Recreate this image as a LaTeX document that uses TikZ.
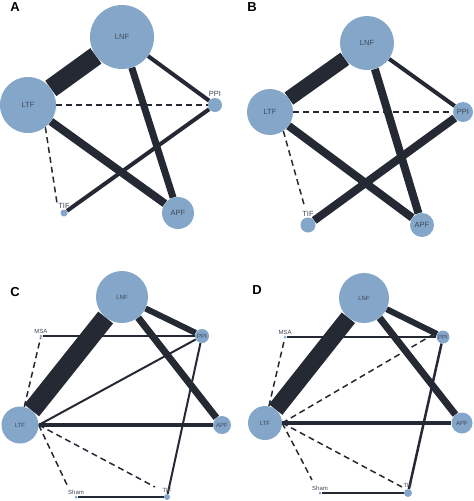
\documentclass[tikz,border=0pt]{standalone}
\usepackage{fontspec}
\setmainfont{Liberation Sans}
\usetikzlibrary{backgrounds}
\definecolor{netblue}{RGB}{131,166,201}
\definecolor{netedge}{RGB}{37,41,51}
\definecolor{nettext}{RGB}{62,72,88}

\begin{document}
\begin{tikzpicture}[x=1pt, y=-1pt,
	lab/.style={font=\fontsize{7.5}{8}\selectfont, text=nettext},
	trt/.style={circle, fill=netblue, inner sep=0pt, minimum size=#1, lab},
	tag/.style={label={[lab, inner sep=0.8pt]above:#1}},
	lnk/.style={draw=netedge, line width=#1},
	ind/.style={draw=netedge, line width=1.5pt, dash pattern=on 6pt off 4pt},
	panel/.style={font=\fontsize{13}{13}\selectfont\bfseries, text=black}]
	\useasboundingbox (0,0) rectangle (474,501);
	% panel A
	\begin{scope}
		\node[panel] (pA) at (15,7) {A};
		\node[trt=64pt] (aLNF) at (122,37) {LNF};
		\node[trt=56pt] (aLTF) at (28,105) {LTF};
		\node[trt=14pt, tag=PPI] (aPPI) at (215,105) {};
		\node[trt=7pt, tag=TIF] (aTIF) at (64,213) {};
		\node[trt=32pt] (aAPF) at (178,213) {APF};
		\begin{pgfonlayer}{background}
			\draw[lnk=19pt] (aLTF) -- (aLNF);
			\draw[lnk=7pt] (aLNF) -- (aAPF); \draw[lnk=4pt] (aLNF) -- (aPPI);
			\draw[lnk=8pt] (aLTF) -- (aAPF); \draw[lnk=4pt] (aTIF) -- (aPPI);
			\draw[ind] (aLTF) -- (aPPI);
			\draw[ind] (aLTF.-52) -- ([shift={(-7,-10)}]aTIF.center);
		\end{pgfonlayer}
	\end{scope}
	% panel B
	\begin{scope}[shift={(237,0)}]
		\node[panel] (pB) at (15,7) {B};
		\node[trt=54pt] (bLNF) at (130,43) {LNF};
		\node[trt=46pt] (bLTF) at (33,112) {LTF};
		\node[trt=20pt] (bPPI) at (226,112) {PPI};
		\node[trt=15pt, tag=TIF] (bTIF) at (71,225) {};
		\node[trt=24pt] (bAPF) at (185,225) {APF};
		\begin{pgfonlayer}{background}
			\draw[lnk=15pt] (bLTF) -- (bLNF);
			\draw[lnk=8pt] (bLNF) -- (bAPF); \draw[lnk=4pt] (bLNF) -- (bPPI);
			\draw[lnk=8pt] (bLTF) -- (bAPF); \draw[lnk=8pt] (bTIF) -- (bPPI);
			\draw[ind] (bLTF) -- (bPPI);
			\draw[ind] (bLTF.-55) -- ([shift={(-3,-17)}]bTIF.center);
		\end{pgfonlayer}
	\end{scope}
	% panel C
	\begin{scope}[shift={(0,250)}, lab/.style={font=\fontsize{6}{6}\selectfont, text=nettext}]
		\node[panel] (pC) at (15,42) {C};
		\node[trt=52pt] (cLNF) at (122,47) {LNF};
		\node[trt=14pt] (cPPI) at (202,86) {PPI};
		\node[trt=3pt, tag=MSA] (cMSA) at (41,86) {};
		\node[trt=37pt] (cLTF) at (20,175) {LTF};
		\node[trt=18pt] (cAPF) at (222,175) {APF};
		\node[trt=3pt, tag=Sham] (cSham) at (76,247) {};
		\node[trt=6pt, tag=TIF] (cTIF) at (167,247) {};
		\begin{pgfonlayer}{background}
			\draw[lnk=19pt] (cLTF) -- (cLNF);
			\draw[lnk=6pt] (cLNF) -- (cPPI); \draw[lnk=7pt] (cLNF) -- (cAPF);
			\draw[lnk=2.5pt] (cMSA) -- (cPPI); \draw[lnk=2pt] (cLTF.east) -- (cPPI);
			\draw[lnk=3.5pt] (cLTF.east) -- (cAPF); \draw[lnk=2pt] (cPPI) -- (cTIF);
			\draw[lnk=2.5pt] (cSham) -- (cTIF);
			\draw[ind] (cLTF) -- (cMSA);
			\draw[ind] (cLTF.east) -- ([shift={(-8,-10)}]cSham.center);
			\draw[ind] (cLTF.east) -- ([shift={(-12,-10)}]cTIF.center);
		\end{pgfonlayer}
	\end{scope}
	% panel D
	\begin{scope}[shift={(237,250)}, lab/.style={font=\fontsize{6}{6}\selectfont, text=nettext}]
		\node[panel] (pD) at (20,40) {D};
		\node[trt=50pt] (dLNF) at (127,48) {LNF};
		\node[trt=13pt] (dPPI) at (206,87) {PPI};
		\node[trt=3pt, tag=MSA] (dMSA) at (48,87) {};
		\node[trt=34pt] (dLTF) at (28,173) {LTF};
		\node[trt=21pt] (dAPF) at (225,173) {APF};
		\node[trt=3pt, tag=Sham] (dSham) at (83,243) {};
		\node[trt=8pt, tag=TIF] (dTIF) at (171,243) {};
		\begin{pgfonlayer}{background}
			\draw[lnk=17pt] (dLTF) -- (dLNF);
			\draw[lnk=6pt] (dLNF) -- (dPPI); \draw[lnk=7pt] (dLNF) -- (dAPF);
			\draw[lnk=2.5pt] (dMSA) -- (dPPI); \draw[lnk=4pt] (dLTF.east) -- (dAPF);
			\draw[lnk=2.5pt] (dPPI) -- (dTIF); \draw[lnk=2.5pt] (dSham) -- (dTIF);
			\draw[ind] (dLTF) -- (dMSA);
			\draw[ind] (dLTF.east) -- ([shift={(-9,-3)}]dPPI.center);
			\draw[ind] (dLTF.east) -- ([shift={(-8,-13)}]dSham.center);
			\draw[ind] (dLTF.east) -- ([shift={(-6,-6)}]dTIF.center);
		\end{pgfonlayer}
	\end{scope}
\end{tikzpicture}
\end{document}
